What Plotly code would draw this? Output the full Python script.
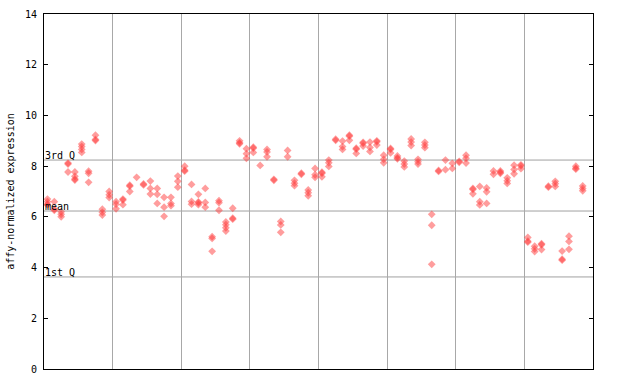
import plotly.graph_objects as go

# Expression values per sample column, in 8 groups of 10 columns
group1 = [[6.7, 6.6, 6.5, 6.47], [6.6, 6.3, 6.26], [6.2, 6.1, 6.0], [8.12, 8.08, 7.77],
          [7.77, 7.6, 7.49, 7.45], [8.87, 8.77, 8.66, 8.54], [7.8, 7.72, 7.36],
          [9.22, 9.05, 9.01], [6.3, 6.18, 6.07], [7.0, 6.87, 6.76]]
group2 = [[6.6, 6.5, 6.32], [6.7, 6.66, 6.48], [7.25, 7.21, 7.0], [7.56], [7.3, 7.26],
          [7.41, 7.12, 6.9], [7.12, 6.89, 6.53], [6.77, 6.38, 6.02], [6.77, 6.53, 6.44],
          [7.61, 7.4, 7.17]]
group3 = [[8.0, 7.84, 7.8], [7.28, 6.61, 6.5], [6.89, 6.59, 6.55, 6.48], [7.12, 6.57, 6.38],
          [5.22, 5.15, 4.64], [6.64, 6.56, 6.26], [5.8, 5.69, 5.57, 5.44], [6.34, 5.95, 5.91],
          [9.0, 8.92, 8.88], [8.69, 8.49, 8.31]]
group4 = [[8.75, 8.71, 8.54], [8.03], [8.66, 8.56, 8.37], [7.48, 7.44], [5.82, 5.68, 5.39],
          [8.62, 8.37], [7.44, 7.33, 7.23], [7.72, 7.68], [7.06, 6.95, 6.83],
          [7.91, 7.66, 7.56]]
group5 = [[7.76, 7.72, 7.58], [8.24, 8.13, 7.99], [9.06, 9.02], [8.99, 8.77, 8.66],
          [9.22, 9.18, 9.02], [8.71, 8.67, 8.5], [8.94, 8.9, 8.79], [8.95, 8.74, 8.58],
          [9.0, 8.96, 8.83], [8.43, 8.27, 8.13]]
group6 = [[8.7, 8.66, 8.52], [8.4, 8.33, 8.29], [8.2, 8.08, 7.97], [9.07, 8.95, 8.81],
          [8.27, 8.17, 8.08], [8.94, 8.83, 8.73], [6.1, 5.67, 4.13], [7.83, 7.79],
          [8.24, 7.86], [8.11, 7.91]]
group7 = [[8.19, 8.15], [8.43, 8.31, 8.12], [7.12, 7.08, 6.91], [7.2, 6.6, 6.47],
          [7.14, 6.99, 6.53], [7.81, 7.68], [7.81, 7.76, 7.72], [7.54, 7.42, 7.32],
          [8.04, 7.87, 7.7], [8.05, 8.01, 7.9]]
group8 = [[5.19, 5.04, 5.0], [4.84, 4.74, 4.63], [4.94, 4.9, 4.71], [7.21, 7.17],
          [7.4, 7.31, 7.2], [4.65, 4.33, 4.29], [5.24, 5.03, 4.72], [8.0, 7.92, 7.88],
          [7.22, 7.12, 7.03]]

q3_value = 8.24
mean_value = 6.23
q1_value = 3.63
stat_labels = ["3rd Q", "mean", "1st Q"]
y_ticks = [0, 2, 4, 6, 8, 10, 12, 14]
n_slots = 80
group_size = 10

columns = group1 + group2 + group3 + group4 + group5 + group6 + group7 + group8
xs, ys = [], []
for i, vals in enumerate(columns):
    for v in vals:
        xs.append(i)
        ys.append(v)

fig = go.Figure()
fig.add_trace(go.Scatter(
    x=xs, y=ys, mode="markers",
    marker=dict(symbol="diamond", size=6, color="rgba(255,60,60,0.5)", line=dict(width=0)),
    showlegend=False, hoverinfo="y",
))

for val in [q3_value, mean_value, q1_value]:
    fig.add_shape(type="line", xref="paper", x0=0, x1=1, yref="y", y0=val, y1=val,
                  line=dict(color="#a0a0a0", width=1), layer="below")
for lab, val in zip(stat_labels, [q3_value, mean_value, q1_value]):
    fig.add_annotation(text=lab, xref="paper", x=0.0, yref="y", y=val, xanchor="left",
                       yanchor="bottom", showarrow=False, yshift=-3, xshift=-1,
                       font=dict(family="DejaVu Sans Mono", size=10, color="black"))

fig.update_layout(
    width=640, height=384,
    margin=dict(l=44, r=47, t=14, b=15, autoexpand=False),
    plot_bgcolor="white", paper_bgcolor="white",
    font=dict(family="DejaVu Sans Mono", size=10, color="black"),
    xaxis=dict(range=[-0.5, n_slots - 0.5],
               tickvals=[g * group_size - 0.5 for g in range(1, n_slots // group_size)],
               showticklabels=False, ticks="", showgrid=True, gridcolor="#a8a8a8", gridwidth=1,
               showline=True, linecolor="black", linewidth=1, mirror=True, zeroline=False,
               automargin=False),
    yaxis=dict(range=[0, 14], tickvals=y_ticks, ticks="inside", ticklen=4, tickcolor="black",
               showgrid=False, zeroline=False, showline=True, linecolor="black", linewidth=1,
               mirror="ticks", automargin=False, ticklabelstandoff=4,
               title=dict(text="affy-normalized expression", standoff=8,
                          font=dict(size=10))),
)

fig.write_html("out.html", config={"displayModeBar": False},
               post_script="document.body.style.margin='0';")
